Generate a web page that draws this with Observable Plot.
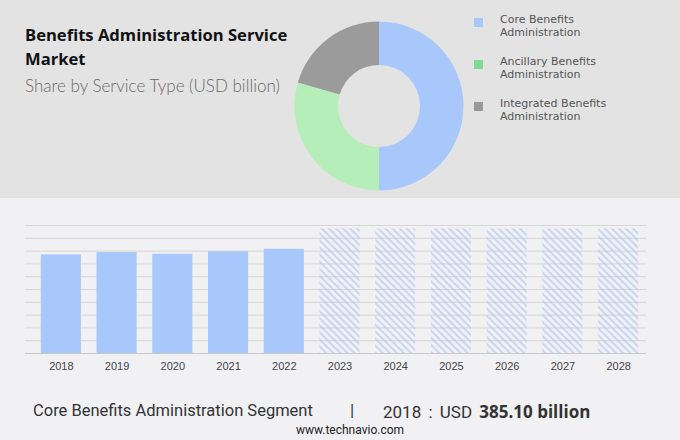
<!DOCTYPE html>
<html>
<head>
<meta charset="utf-8">
<script src="https://cdn.jsdelivr.net/npm/d3@7"></script>
<script src="https://cdn.jsdelivr.net/npm/@observablehq/plot@0.6"></script>
<style>
  html, body { margin: 0; padding: 0; }
  body { width: 680px; height: 440px; position: relative; overflow: hidden; background: #f1f1f3; font-family: "Open Sans", sans-serif; }
  #top { position: absolute; left: 0; top: 0; width: 680px; height: 198px; background: #e3e3e3; }
  .abs { position: absolute; white-space: nowrap; }
  #title { left: 25px; top: 23px; font-family: "Open Sans", sans-serif; font-weight: 700; font-size: 16.6px; line-height: 24px; color: #111; }
  #subtitle { left: 25px; top: 75px; font-family: "Lato", sans-serif; font-weight: 300; font-size: 17px; color: #6a6a6a; }
  #donut { position: absolute; left: 289px; top: 16px; width: 180px; height: 180px; }
  .leg { position: absolute; left: 474px; }
  .leg .sw { position: absolute; left: 0; top: 10px; width: 9px; height: 9px; }
  .leg .tx { position: absolute; left: 26px; font-family: "DejaVu Sans", sans-serif; font-size: 11px; line-height: 12px; color: #555; white-space: nowrap; }
  #bars { position: absolute; left: 0; top: 198px; }
  #foot { left: 33px; top: 401px; font-family: "Roboto", sans-serif; font-size: 16.5px; color: #333; }
  #sep { left: 350px; top: 400px; font-family: "Roboto", sans-serif; font-size: 17px; color: #333; }
  #val { left: 383px; top: 400px; font-family: "Roboto", sans-serif; font-size: 17px; color: #333; word-spacing: 3px; }
  #val b { font-family: "Open Sans", sans-serif; font-weight: 700; font-size: 17px; word-spacing: 0; }
  #url { left: 0; width: 700px; text-align: center; top: 423px; font-family: "Roboto", sans-serif; font-size: 12px; color: #222; }
  #err { position: absolute; left: 300px; top: 60px; color: red; font-size: 10px; white-space: pre; }
</style>
</head>
<body>
<div id="top">
  <div id="title" class="abs">Benefits Administration Service<br>Market</div>
  <div id="subtitle" class="abs">Share by Service Type (USD billion)</div>
  <div id="donut"></div>
  <div id="legend"></div>
</div>
<div id="bars"></div>
<div id="foot" class="abs">Core Benefits Administration Segment</div>
<div id="sep" class="abs">|</div>
<div id="val" class="abs">2018 : USD <b>385.10 billion</b></div>
<div id="url" class="abs">www.technavio.com</div>
<div id="err"></div>

<script>
// ---- Data ----
const serviceTypes = ["Core Benefits Administration", "Ancillary Benefits Administration", "Integrated Benefits Administration"];
const serviceLines = [["Core Benefits", "Administration"], ["Ancillary Benefits", "Administration"], ["Integrated Benefits", "Administration"]];
const serviceShares = [50, 29.5, 20.5];
const donutColors = ["#a8c8fb", "#b6eeb9", "#9b9b9b"];
const legendColors = ["#a8c8fb", "#7ddc92", "#999999"];

const years = ["2018", "2019", "2020", "2021", "2022", "2023", "2024", "2025", "2026", "2027", "2028"];
const historicYears = ["2018", "2019", "2020", "2021", "2022"];
const historicValues = [385.1, 394, 387.5, 398, 407];
const forecastYears = ["2023", "2024", "2025", "2026", "2027", "2028"];
const forecastValues = [487, 487, 487, 487, 487, 487];
const gridValues = [50, 100, 150, 200, 250, 300, 350, 400, 450, 500];

try {
// ---- Donut ----
const slices = serviceTypes.map((t, i) => ({type: t, value: serviceShares[i]}));
const colorScale = Plot.scale({color: {type: "ordinal", domain: serviceTypes, range: donutColors}});
function donutMark(...args) {
  const dims = args.find(a => a && typeof a === "object" && "width" in a && "height" in a && "marginLeft" in a) || {width: 180, height: 180};
  const cx = dims.width / 2, cy = dims.height / 2;
  const pie = d3.pie().value(d => d.value).sort(null);
  const arc = d3.arc().innerRadius(41).outerRadius(84.5);
  const g = d3.create("svg:g").attr("transform", `translate(${cx},${cy})`);
  g.selectAll("path").data(pie(slices)).join("path")
    .attr("d", arc)
    .attr("fill", d => colorScale.apply(d.data.type));
  return g.node();
}
const donut = Plot.plot({
  width: 180, height: 180, margin: 0,
  style: {background: "transparent", overflow: "visible"},
  marks: [donutMark]
});
document.getElementById("donut").appendChild(donut);
} catch (e) { document.getElementById("err").textContent += "donut: " + e + "\n"; }

// ---- Legend ----
const legend = document.getElementById("legend");
serviceTypes.forEach((t, i) => {
  const d = document.createElement("div");
  d.className = "leg";
  d.style.top = (8 + i * 42) + "px";
  d.innerHTML = `<div class="sw" style="background:${legendColors[i]}"></div>` +
    `<div class="tx" style="top:6px">${serviceLines[i][0]}</div>` +
    `<div class="tx" style="top:19px">${serviceLines[i][1]}</div>`;
  legend.appendChild(d);
});

// ---- Bars ----
const hist = historicYears.map((y, i) => ({year: y, value: historicValues[i]}));
const fc = forecastYears.map((y, i) => ({year: y, value: forecastValues[i]}));

const bars = Plot.plot({
  width: 680, height: 185,
  marginLeft: 25, marginRight: 34, marginTop: 27, marginBottom: 30,
  style: {background: "transparent", fontFamily: "Liberation Sans, Arial, sans-serif", fontSize: "11px", color: "#444"},
  x: {domain: years, paddingInner: 0.28, paddingOuter: 0.14, insetLeft: 8, round: false, label: null},
  y: {domain: [0, 500], axis: null},
  marks: [
    Plot.ruleY(gridValues, {stroke: "#d6d6d6", strokeWidth: 1}),
    Plot.ruleY([0], {stroke: "#c8c8c8", strokeWidth: 1.2}),
    Plot.barY(hist, {x: "year", y: "value", fill: "#a8c8fb"}),
    Plot.barY(fc, {x: "year", y: "value", fill: "url(#hatch)"}),
    Plot.axisX({tickSize: 0, tickPadding: 9, fill: "#444", fontSize: 11, label: null})
  ]
});
const svg = d3.select(bars);
const defs = svg.insert("defs", ":first-child");
const pat = defs.append("pattern")
  .attr("id", "hatch").attr("patternUnits", "userSpaceOnUse")
  .attr("width", 5).attr("height", 5)
  .attr("patternTransform", "rotate(-45)");
pat.append("line").attr("x1", 1).attr("y1", 0).attr("x2", 1).attr("y2", 5)
  .attr("stroke", "#b5ccf4").attr("stroke-width", 1.4);
document.getElementById("bars").appendChild(bars);
</script>
</body>
</html>
